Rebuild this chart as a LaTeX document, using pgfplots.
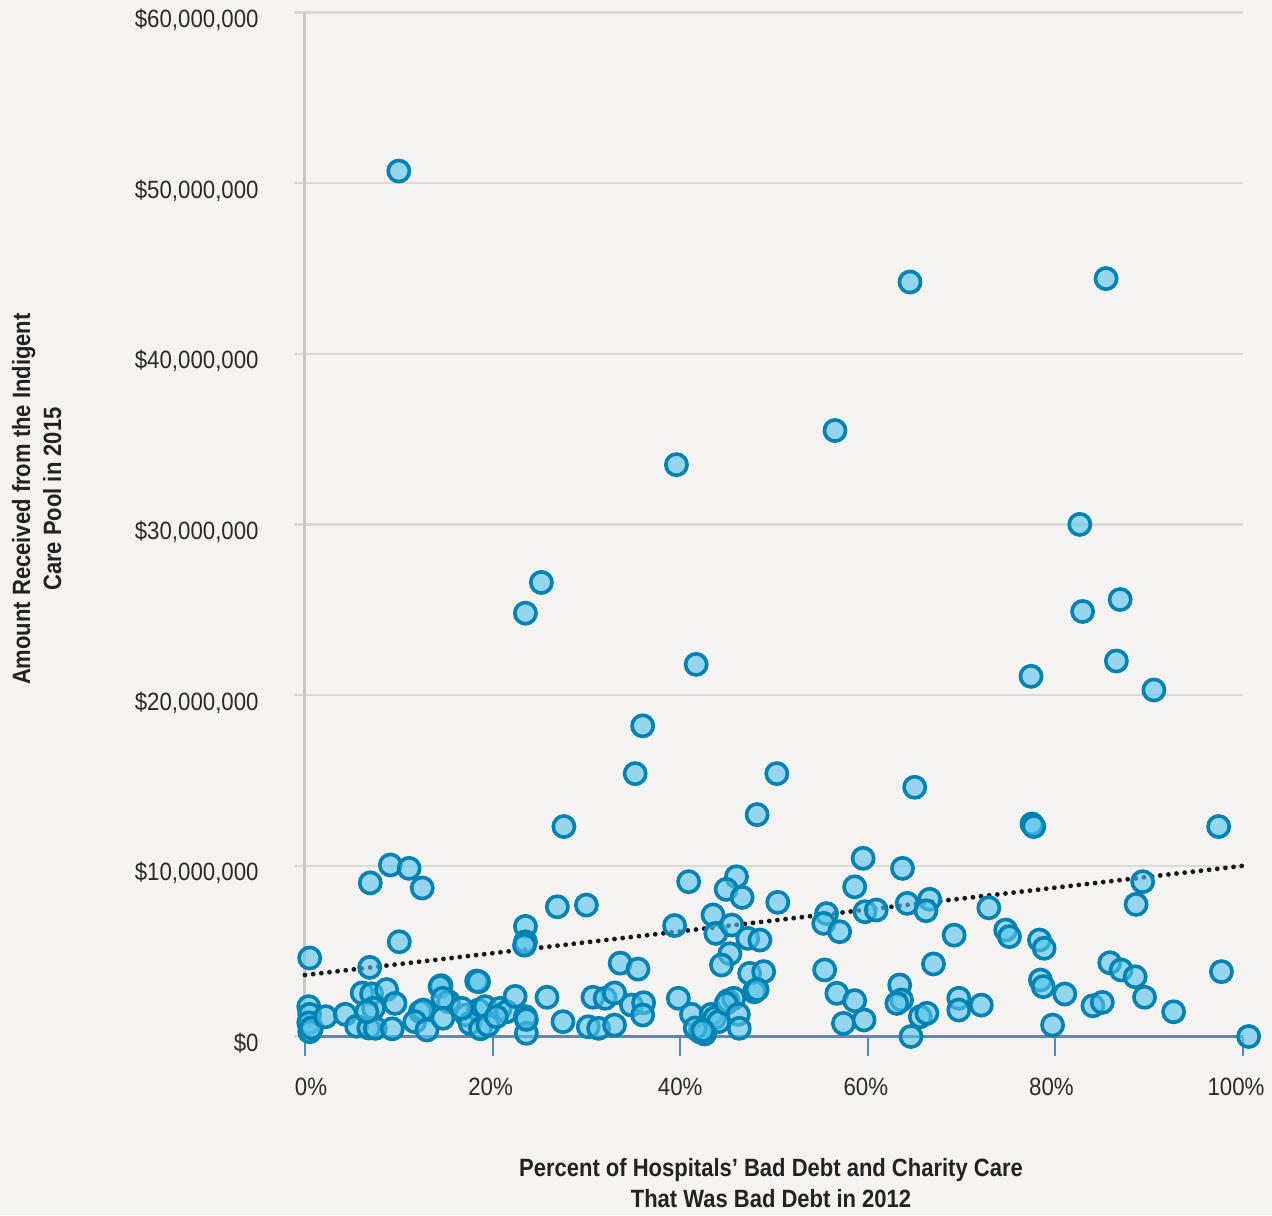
\documentclass[border=0pt]{standalone}
\usepackage{pgfplots}
\usepackage{pgfplotstable}
\pgfplotsset{compat=1.18}
\usepackage{fontspec}
\setmainfont{Liberation Sans}
\newfontfamily\ticksfont[FakeStretch=0.89]{Liberation Sans}
\newfontfamily\labelfont[FakeStretch=0.88]{Liberation Sans}

\definecolor{bgc}{HTML}{F4F3F1}
\definecolor{gridc}{HTML}{D9D9D9}
\definecolor{yaxc}{HTML}{C8C8C8}
\definecolor{xaxc}{HTML}{5887C8}
\definecolor{mkedge}{HTML}{0083B3}
\definecolor{mkfill}{RGB}{87,196,236}
\definecolor{txt}{HTML}{2A2A2A}
\definecolor{ttl}{HTML}{222222}

% x: share of bad debt (%), y: pool payment (million $)
\pgfplotstableread{
x y
10.0 50.7
64.5 44.2
85.4 44.4
56.5 35.5
39.6 33.5
82.6 30.0
25.2 26.6
23.5 24.8
82.9 24.9
86.9 25.6
41.7 21.8
86.5 22.0
77.4 21.1
90.5 20.3
36.0 18.2
35.2 15.4
50.3 15.4
65.0 14.6
48.2 13.0
27.6 12.3
77.5 12.45
77.7 12.3
97.4 12.3
6.96 9.0
9.1 10.05
11.1 9.85
12.5 8.7
10.05 5.55
0.5 4.6
6.9 4.05
14.5 2.98
18.3 3.25
26.9 7.6
30.0 7.7
23.5 6.45
23.5 5.55
23.4 5.35
33.6 4.3
35.5 3.95
39.4 6.5
40.9 9.07
46.0 9.36
44.9 8.62
46.6 8.15
50.4 7.86
43.5 7.12
43.8 6.04
45.5 6.53
47.2 5.75
48.5 5.65
45.3 4.85
44.4 4.19
47.4 3.7
48.9 3.8
55.4 3.9
55.6 7.2
55.3 6.63
57.0 6.14
58.6 8.77
59.5 10.44
59.7 7.31
60.9 7.41
63.7 9.85
64.2 7.8
66.6 8.04
66.2 7.37
72.9 7.54
69.2 5.94
67.0 4.25
74.7 6.24
75.1 5.85
78.3 5.65
78.8 5.17
89.3 9.07
88.6 7.74
85.8 4.32
87.0 3.9
88.5 3.5
97.7 3.8
0.4 1.75
0.5 1.3
0.4 0.8
0.5 0.28
0.7 0.5
2.2 1.16
4.3 1.3
5.5 0.6
6.8 0.5
7.5 0.48
9.3 0.45
6.1 2.55
7.1 2.5
8.7 2.75
9.6 1.94
7.3 1.65
6.6 1.45
14.4 2.92
18.5 3.21
15.3 2.04
14.7 2.24
12.3 1.45
12.6 1.55
11.7 0.87
13.0 0.38
14.7 1.07
17.2 1.26
18.5 1.55
19.2 1.75
17.6 0.77
18.7 0.45
19.5 0.67
20.8 1.65
21.5 1.45
16.7 1.65
20.4 1.16
22.4 2.35
23.5 1.16
23.6 0.19
23.6 1.0
25.8 2.3
27.5 0.87
30.7 2.3
32.0 2.24
33.0 2.55
30.2 0.57
31.3 0.48
33.0 0.67
34.8 1.84
36.1 1.98
36.0 1.26
39.8 2.24
41.2 1.3
43.3 1.3
43.7 1.1
44.1 0.87
45.1 2.1
45.7 2.24
44.9 1.94
46.2 1.3
46.3 0.48
42.1 0.28
42.6 0.15
41.6 0.5
42.4 0.35
47.9 2.62
48.2 2.75
56.7 2.53
58.6 2.1
57.4 0.77
59.6 0.97
63.4 3.02
63.6 2.14
63.1 1.94
65.6 1.16
66.3 1.36
64.6 0.0
69.7 2.24
69.7 1.55
72.1 1.84
78.4 3.31
78.7 2.92
79.7 0.67
81.0 2.49
84.0 1.8
85.0 2.0
89.5 2.3
92.6 1.45
100.6 0.0
}\hospitals

\pgfplotsset{
  frame/.style={
    scale only axis, width=469pt, height=512.1pt,
    xmin=0, xmax=100, ymin=0, ymax=60,
  },
}

\begin{document}
\begin{tikzpicture}
\fill[bgc] (-152.5pt,-89.25pt) rectangle (483.5pt,518.25pt);

% grid, y axis and its labels
\begin{axis}[
  frame,
  hide x axis,
  axis y line*=left,
  y axis line style={draw=yaxc, line width=1.5pt, -},
  ytick={0,10,...,60},
  yticklabels={{\$0},{\$10,000,000},{\$20,000,000},{\$30,000,000},{\$40,000,000},{\$50,000,000},{\$60,000,000}},
  ymajorgrids,
  major grid style={draw=gridc, line width=1.2pt},
  tick align=outside, major tick length=5.5pt,
  ytick style={draw=gridc, line width=1.2pt},
  yticklabel style={font=\ticksfont\fontsize{12.5}{15}\selectfont, text=txt,
    anchor=base east, inner sep=0pt, yshift=-7.5pt, xshift=-17.5pt},
  ylabel={Amount Received from the Indigent\\Care Pool in 2015},
  ylabel style={font=\labelfont\bfseries\fontsize{12.5}{15.5}\selectfont, text=ttl,
    align=center, inner sep=0pt, rotate=0,
    at={(axis description cs:-0.3128,0.5247)}, anchor=north},
]
\end{axis}

% x axis, hospitals and trend
\begin{axis}[
  frame,
  hide y axis,
  axis x line*=bottom,
  x axis line style={draw=xaxc, line width=1.3pt, -},
  xtick={0,20,...,100},
  xticklabels={\kern6pt0\%,20\%\kern2pt,40\%,60\%\kern2pt,80\%\kern4pt,100\%\kern7pt},
  tick align=outside, major tick length=9.5pt,
  xtick style={draw=xaxc, line width=1pt},
  xticklabel style={font=\ticksfont\fontsize{12.5}{15}\selectfont, text=txt,
    anchor=base, inner sep=0pt, yshift=-20pt},
  xlabel={Percent of Hospitals’ Bad Debt and Charity Care\\That Was Bad Debt in 2012},
  xlabel style={font=\labelfont\bfseries\fontsize{12.5}{15.5}\selectfont, text=ttl,
    align=center, inner sep=0pt,
    at={(axis description cs:0.4968,0)}, anchor=north, yshift=-60.5pt},
  clip=false,
]
\addplot[only marks, mark=*, mark size=5.3pt,
  mark options={draw=mkedge, fill=mkfill, fill opacity=0.6, line width=1.8pt}]
  table {\hospitals};
\addplot[black!90, line width=2.4pt, line cap=round, dash pattern=on 0pt off 4.1pt]
  coordinates {(0,3.6) (100,10.0)};
\end{axis}

\pgfresetboundingbox
\useasboundingbox (-152.5pt,-89.25pt) rectangle (483.5pt,518.25pt);
\end{tikzpicture}
\end{document}
